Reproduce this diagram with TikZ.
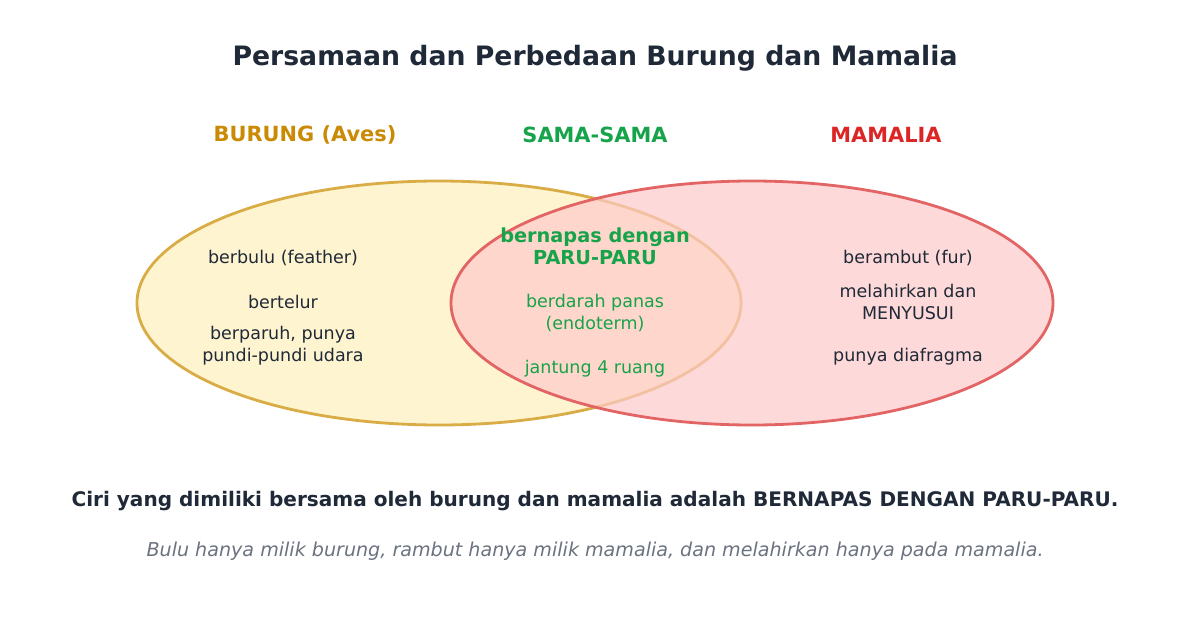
\documentclass[tikz,border=0pt]{standalone}
\usepackage{fontspec}
\setmainfont{DejaVu Sans}
\usetikzlibrary{positioning}
\definecolor{ink}{HTML}{1F2937}
\definecolor{grayink}{HTML}{6B7280}
\definecolor{birdc}{HTML}{CA8A04}
\definecolor{bothc}{HTML}{16A34A}
\definecolor{mamc}{HTML}{DC2626}
\definecolor{birdfill}{HTML}{FEF3C7}
\definecolor{birdline}{HTML}{D9AC45}
\definecolor{mamfill}{HTML}{FECACA}
\definecolor{mamline}{HTML}{E36464}
\tikzset{
  heading/.style={font=\bfseries\fontsize{20.9}{25}\selectfont},
  item/.style={align=center,text=ink,font=\fontsize{17.5}{22}\selectfont,inner sep=0pt},
  shared/.style={item,text=bothc},
}
\begin{document}
\begin{tikzpicture}[x=1pt,y=-1pt]
   \useasboundingbox[fill=white] (0,0) rectangle (1191,629);
   % the two sets
   \draw[birdline,line width=2.8pt,fill=birdfill,fill opacity=0.85] (439,303) ellipse [x radius=302,y radius=122];
   \draw[mamline,line width=2.8pt,fill=mamfill,fill opacity=0.7] (752,303) ellipse [x radius=301,y radius=122];
   % titles
   \node[text=ink,font=\bfseries\fontsize{26.7}{31}\selectfont] (title) at (595,58) {Persamaan dan Perbedaan Burung dan Mamalia};
   \node[heading,text=birdc] (bird) at (305,135) {BURUNG (Aves)};
   \node[heading,text=bothc] (both) at (595,135) {SAMA-SAMA};
   \node[heading,text=mamc] (mam) at (886,135) {MAMALIA};
   % burung only
   \node[item] (feather) at (283,258) {berbulu (feather)};
   \node[item] (egg) at (283,302) {bertelur};
   \node[item] (beak) at (283,346) {berparuh, punya\\pundi-pundi udara};
   % both
   \node[shared,font=\bfseries\fontsize{19.3}{22}\selectfont] (lung) at (595,246) {bernapas dengan\\PARU-PARU};
   \node[shared] (warm) at (595,313) {berdarah panas\\(endoterm)};
   \node[shared] (heart) at (595,369) {jantung 4 ruang};
   % mamalia only
   \node[item] (fur) at (908,258) {berambut (fur)};
   \node[item] (milk) at (908,302) {melahirkan dan\\MENYUSUI};
   \node[item] (diaph) at (908,357) {punya diafragma};
   % notes
   \node[text=ink,font=\bfseries\fontsize{20.05}{24}\selectfont] (answer) at (595,501) {Ciri yang dimiliki bersama oleh burung dan mamalia adalah BERNAPAS DENGAN PARU-PARU.};
   \node[text=grayink,font=\itshape\fontsize{19.1}{23}\selectfont] (note) at (595,551) {Bulu hanya milik burung, rambut hanya milik mamalia, dan melahirkan hanya pada mamalia.};
\end{tikzpicture}
\end{document}
